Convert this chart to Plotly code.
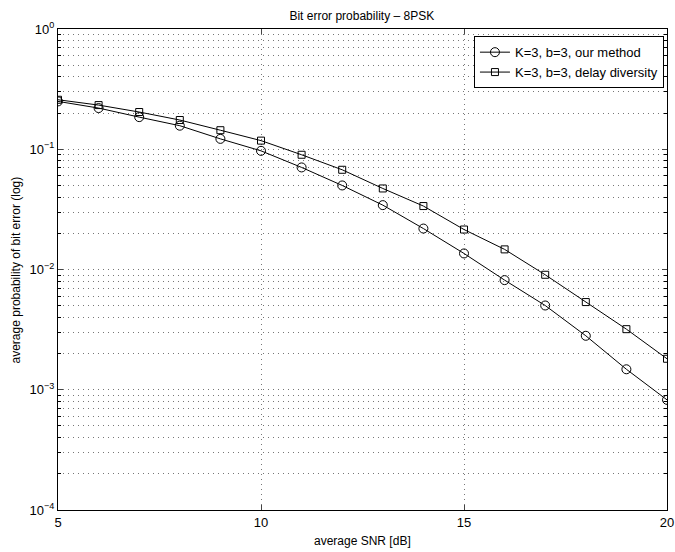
import plotly.graph_objects as go

snr = list(range(5, 21))
ber_ours = [0.250, 0.220, 0.185, 0.157, 0.122, 0.097, 0.0706, 0.050, 0.0343, 0.0219,
            0.0136, 0.00816, 0.00502, 0.00281, 0.00148, 0.000824]
ber_delay = [0.258, 0.233, 0.204, 0.175, 0.144, 0.118, 0.090, 0.0675, 0.0472, 0.0337,
             0.0215, 0.0147, 0.00904, 0.00536, 0.00319, 0.00181]
name_ours = "K=3, b=3, our method"
name_delay = "K=3, b=3, delay diversity"
x_ticks = [5, 10, 15, 20]
y_ticks = [1e-4, 1e-3, 1e-2, 1e-1, 1e0]
y_ticktext = ["10<sup>−4</sup>", "10<sup>−3</sup>", "10<sup>−2</sup>", "10<sup>−1</sup>", "10<sup>0</sup>"]
y_minor = [m * 10.0 ** e for e in range(-4, 0) for m in range(2, 10)]

font = "Liberation Sans, Arial, Helvetica, sans-serif"
grid = dict(showgrid=True, gridcolor="#777", griddash="1px,4px", gridwidth=1)

fig = go.Figure()
fig.add_trace(go.Scatter(x=snr, y=ber_ours, name=name_ours, mode="lines+markers",
                         line=dict(color="black", width=1),
                         marker=dict(symbol="circle-open", size=9, color="black", line=dict(width=1))))
fig.add_trace(go.Scatter(x=snr, y=ber_delay, name=name_delay, mode="lines+markers",
                         line=dict(color="black", width=1),
                         marker=dict(symbol="square-open", size=7, color="black", line=dict(width=1))))

fig.update_layout(
    width=675, height=552,
    margin=dict(l=58, r=8, t=29, b=42, autoexpand=False),
    paper_bgcolor="white", plot_bgcolor="white",
    font=dict(family=font, size=12, color="black"),
    title=dict(text="Bit error probability – 8PSK", x=0.536, xanchor="center", y=0.971, yanchor="middle",
               font=dict(size=12)),
    showlegend=True,
    legend=dict(x=0.995, xanchor="right", y=0.985, yanchor="top", bgcolor="white",
                bordercolor="black", borderwidth=1, font=dict(size=13),
                tracegroupgap=0, itemwidth=30),
    annotations=[
        dict(text="average SNR [dB]", xref="paper", yref="paper", x=0.5, y=-0.0644,
             xanchor="center", yanchor="middle", showarrow=False, font=dict(size=12)),
        dict(text="average probability of bit error (log)", xref="paper", yref="paper",
             x=-0.069, y=0.5, xanchor="center", yanchor="middle", textangle=-90,
             showarrow=False, font=dict(size=12)),
    ],
)
fig.update_xaxes(range=[5, 20], tickvals=x_ticks, ticks="inside", ticklen=5,
                 showline=True, linecolor="black", linewidth=1, mirror="ticks",
                 zeroline=False, tickfont=dict(size=13), automargin=False, **grid)
fig.update_yaxes(type="log", range=[-4, 0], tickvals=y_ticks, ticktext=y_ticktext,
                 ticks="inside", ticklen=5,
                 showline=True, linecolor="black", linewidth=1, mirror="ticks",
                 zeroline=False, tickfont=dict(size=13), automargin=False, **grid,
                 minor=dict(tickvals=y_minor, ticks="inside", ticklen=3, tickcolor="black", **grid))

fig.write_html("out.html", config={"displayModeBar": False},
               post_script="document.body.style.margin='0';")
